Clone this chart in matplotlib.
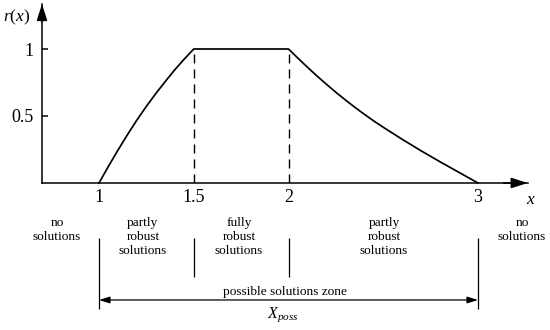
import matplotlib
matplotlib.use('Agg')
import matplotlib.pyplot as plt

# ---- data ----
x_curve = [1.0, 1.05, 1.1, 1.15, 1.2, 1.25, 1.3, 1.35, 1.4, 1.45, 1.5,
           2.0, 2.05, 2.1, 2.15, 2.2, 2.25, 2.3, 2.35, 2.4, 2.45, 2.5,
           2.6, 2.7, 2.8, 2.9, 3.0]
y_curve = [0.0, 0.125, 0.245, 0.360, 0.470, 0.572, 0.668, 0.758, 0.845, 0.925, 1.0,
           1.0, 0.931, 0.864, 0.799, 0.737, 0.677, 0.620, 0.565, 0.513, 0.463, 0.416,
           0.326, 0.240, 0.158, 0.079, 0.0]

x_ticks = [1, 1.5, 2, 3]
x_tick_labels = ["1", "1.5", "2", "3"]
y_ticks = [0.5, 1]
y_tick_labels = ["0.5", "1"]

dashed_x = [1.5, 2]
dashed_top = [1.0, 1.0]

zone_centers = [0.778, 1.232, 1.739, 2.504, 3.232]
zone_labels = ["no\nsolutions", "partly\nrobust\nsolutions", "fully\nrobust\nsolutions",
               "partly\nrobust\nsolutions", "no\nsolutions"]

bound_x = [1, 1.5, 2, 3]
bound_bottom = [-0.94, -0.70, -0.70, -0.94]
bound_top = -0.41

poss_range = [1, 3]
poss_y = -0.873
poss_label = "possible solutions zone"
poss_symbol = r"$X_{poss}$"

# ---- style ----
plt.rcParams['font.family'] = 'Liberation Serif'
plt.rcParams['mathtext.fontset'] = 'custom'
plt.rcParams['mathtext.rm'] = 'Liberation Serif'
plt.rcParams['mathtext.it'] = 'Liberation Serif:italic'

W, H = 550, 330
fig = plt.figure(figsize=(W / 100, H / 100), dpi=100)
ax_left, ax_right, ax_bottom, ax_top = 42, 527.7, 183, 4
pxu_x, pxu_y = 189.5, 134.0
ax = fig.add_axes([ax_left / W, 1 - ax_bottom / H, (ax_right - ax_left) / W, (ax_bottom - ax_top) / H])
x0 = 1 + (ax_left - 99) / pxu_x
ax.set_xlim(x0, x0 + (ax_right - ax_left) / pxu_x)
ax.set_ylim(0, (ax_bottom - ax_top) / pxu_y)

for s in ['top', 'right']:
    ax.spines[s].set_visible(False)
for s in ['left', 'bottom']:
    ax.spines[s].set_linewidth(1.1)

ax.set_xticks(x_ticks)
ax.set_xticklabels(x_tick_labels)
ax.set_yticks(y_ticks)
ax.set_yticklabels(y_tick_labels)
ax.tick_params(axis='x', length=0, pad=4.5, labelsize=13)
ax.tick_params(axis='y', direction='in', length=4, width=1.1, pad=6, labelsize=13)

# axis arrows
arrow_kw = dict(arrowstyle='-|>,head_length=1.0,head_width=0.32', mutation_scale=10,
                color='black', lw=1.1, shrinkA=0, shrinkB=0)
ax.annotate('', xy=(1, 0), xytext=(0.95, 0), xycoords='axes fraction', arrowprops=arrow_kw,
            annotation_clip=False)
ax.annotate('', xy=(0, 1), xytext=(0, 0.9), xycoords='axes fraction', arrowprops=arrow_kw,
            annotation_clip=False)

# curve and dashed lines
ax.plot(x_curve, y_curve, color='black', lw=1.25, clip_on=False, solid_joinstyle='round')
ax.vlines(dashed_x, 0, dashed_top, colors='black', lw=1.0, linestyles=(0, (6.5, 4.3)))

# axis labels
ax.text(1 + (17 - 99) / pxu_x, (183 - 21) / pxu_y, r"$r(x)$", fontsize=12.5,
        ha='center', va='baseline', clip_on=False)
ax.text(1 + (531 - 99) / pxu_x, (183 - 204) / pxu_y, r"$x$", fontsize=12.5,
        ha='center', va='baseline', clip_on=False)

# zone descriptions
for xc, lab in zip(zone_centers, zone_labels):
    ax.text(xc, -0.257, lab, ha='center', va='top', fontsize=9.6, linespacing=1.22,
            clip_on=False)

ax.vlines(bound_x, bound_bottom, bound_top, colors='black', lw=0.9, clip_on=False)

ax.annotate('', xy=(poss_range[0], poss_y), xytext=(poss_range[1], poss_y), xycoords='data',
            arrowprops=dict(arrowstyle='<|-|>,head_length=0.8,head_width=0.25', mutation_scale=8,
                            color='black', lw=0.9, shrinkA=0, shrinkB=0),
            annotation_clip=False)
ax.text(1.98, -0.836, poss_label, ha='center', va='baseline', fontsize=9.6, clip_on=False)
ax.text(1.97, -1.005, poss_symbol, ha='center', va='baseline', fontsize=11.5, clip_on=False)

fig.savefig('out.png', dpi=100)
